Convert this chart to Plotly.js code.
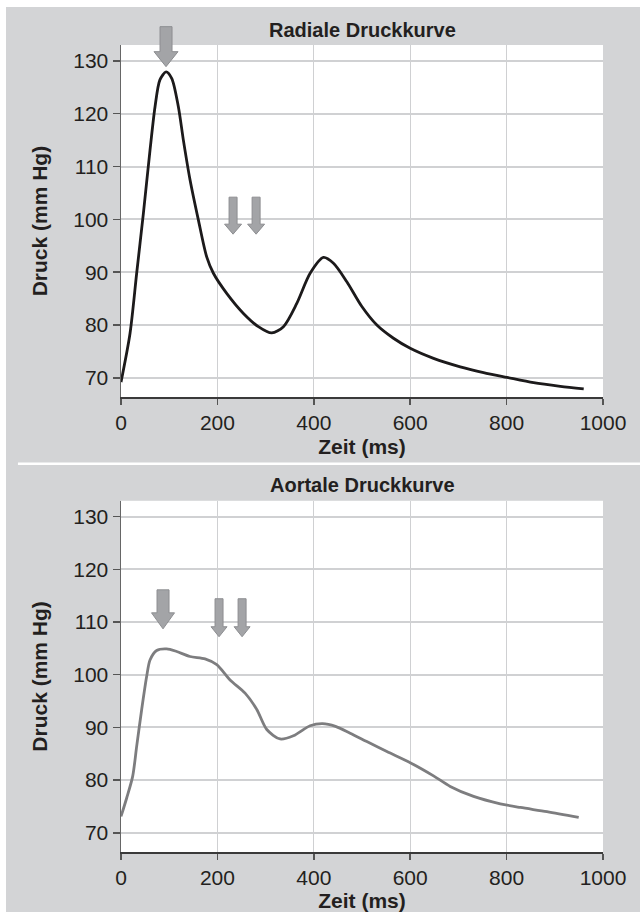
<!DOCTYPE html>
<html><head><meta charset="utf-8">
<script src="https://cdn.plot.ly/plotly-3.0.1.min.js"></script>
<style>
html,body{margin:0;padding:0;background:#fff;width:640px;height:912px;overflow:hidden}
#chart{position:absolute;left:6px;top:7px;width:634px;height:905px}
</style>
</head><body><div id="chart"></div>
<script>
// ---- data ----
const radialTime = [0, 18.7, 32.5, 46.4, 60.2, 70.6, 80.7, 93.4, 105.2, 119, 129.4, 143.2, 160.5, 177.8, 191.7, 219.3, 254, 285, 312.8, 337, 364.7, 392.4, 420, 440.8, 468.5, 499.7, 530.8, 565.3, 600, 648.4, 703.8, 752.2, 800.7, 856, 911.4, 960];
const radialPressure = [69.2, 78.4, 89.8, 101.1, 113.1, 121.3, 126.4, 127.9, 126.7, 121.3, 115, 107.5, 99.9, 92.9, 89.8, 86, 82.2, 79.7, 78.5, 79.7, 84.1, 89.8, 92.8, 91.7, 88.2, 83.5, 80, 77.5, 75.6, 73.7, 72.1, 71, 70.1, 69.1, 68.4, 67.9];
const aorticTime = [0, 11.8, 24.2, 32.5, 42.9, 53.3, 60.2, 74, 94.8, 115.6, 143.2, 174.4, 198.6, 226.3, 257.4, 281.7, 302.4, 330, 357.7, 392.4, 418, 445, 475.4, 510, 551.6, 600, 648.4, 683, 731.5, 786.9, 828.4, 883.8, 949.6];
const aorticPressure = [73.1, 76.6, 80.7, 86.4, 93.4, 99.7, 102.8, 104.6, 104.9, 104.4, 103.45, 103, 101.9, 99, 96.5, 93.4, 89.6, 87.8, 88.4, 90.3, 90.7, 90.2, 88.9, 87.3, 85.4, 83.3, 80.8, 78.8, 76.9, 75.5, 74.8, 74, 72.9];
const xTickVals = [0, 200, 400, 600, 800, 1000];
const yTickVals = [70, 80, 90, 100, 110, 120, 130];
const chartTitles = ['Radiale Druckkurve', 'Aortale Druckkurve'];
const xTitle = 'Zeit (ms)';
const yTitle = 'Druck (mm Hg)';
// arrow markers: time position and tip pressure
const radialArrowTime = [93.4, 232.5, 280.3];
const radialArrowTip = [128.9, 97.2, 97.2];
const radialArrowBig = [true, false, false];
const aorticArrowTime = [87.2, 203.4, 251.2];
const aorticArrowTip = [108.7, 107.2, 107.2];
const aorticArrowBig = [true, false, false];

// ---- styling ----
const FONT = '"Liberation Sans", Arial, sans-serif';
const TXT = '#231f20';
const xRange = [0, 1000];
const yRange = [66.35, 133];
const topDomain = [0.5636, 1];
const botDomain = [0, 0.4352];

function xAxis(anchor) {
  return {
    domain: [0, 1], range: xRange, anchor: anchor, tickvals: xTickVals,
    ticks: 'outside', ticklen: 6, tickwidth: 1.5, tickcolor: '#555',
    showline: true, linecolor: '#3a3a3a', linewidth: 1.5,
    showgrid: true, gridcolor: '#cfd0d2', gridwidth: 1.2, zeroline: false,
    tickfont: {family: FONT, size: 21, color: TXT},
    title: {text: xTitle, font: {family: FONT, size: 21, color: TXT, weight: 'bold'}, standoff: 6},
    fixedrange: true
  };
}
function yAxis(anchor, domain) {
  return {
    domain: domain, range: yRange, anchor: anchor, tickvals: yTickVals,
    ticks: 'outside', ticklen: 7, tickwidth: 1.5, tickcolor: '#555',
    showline: true, linecolor: '#666', linewidth: 1.5,
    showgrid: true, gridcolor: '#d0d1d3', gridwidth: 2, zeroline: false,
    tickfont: {family: FONT, size: 21, color: TXT},
    title: {text: yTitle, font: {family: FONT, size: 21, color: TXT, weight: 'bold'}, standoff: 20},
    fixedrange: true
  };
}

function paperY(domain, v) {
  return domain[0] + (v - yRange[0]) / (yRange[1] - yRange[0]) * (domain[1] - domain[0]);
}
const BIG_TOP = 'M 0 0 L -12 15 L -6 15 L -6 40 L 6 40 L 6 15 L 12 15 Z';
const BIG_BOT = 'M 0 0 L -11.5 16 L -6 16 L -6 39 L 6 39 L 6 16 L 11.5 16 Z';
const SMALL_TOP = 'M 0 0 L -8.5 10 L -4 10 L -4 37 L 4 37 L 4 10 L 8.5 10 Z';
const SMALL_BOT = 'M 0 0 L -8 10 L -4 10 L -4 38 L 4 38 L 4 10 L 8 10 Z';

function arrowShapes(times, tips, big, xref, domain, bigPath, smallPath) {
  return times.map((t, i) => ({
    type: 'path', xref: xref, yref: 'paper',
    xsizemode: 'pixel', ysizemode: 'pixel',
    xanchor: t, yanchor: paperY(domain, tips[i]),
    path: big[i] ? bigPath : smallPath,
    fillcolor: '#a3a4a7', line: {color: '#8d8e91', width: 1}, layer: 'above'
  }));
}

const traces = [
  {x: radialTime, y: radialPressure, xaxis: 'x', yaxis: 'y', type: 'scatter', mode: 'lines',
   line: {color: '#1c1a1b', width: 2.8, shape: 'spline', smoothing: 0.8}, hoverinfo: 'skip'},
  {x: aorticTime, y: aorticPressure, xaxis: 'x2', yaxis: 'y2', type: 'scatter', mode: 'lines',
   line: {color: '#7d7d7f', width: 2.8, shape: 'spline', smoothing: 0.8}, hoverinfo: 'skip'}
];

const shapes = [
  {type: 'line', xref: 'paper', yref: 'paper', x0: -0.2138, x1: 1.08, y0: 0.48098, y1: 0.48098,
   line: {color: '#ffffff', width: 2.5}, layer: 'above'}
].concat(
  arrowShapes(radialArrowTime, radialArrowTip, radialArrowBig, 'x', topDomain, BIG_TOP, SMALL_TOP),
  arrowShapes(aorticArrowTime, aorticArrowTip, aorticArrowBig, 'x2', botDomain, BIG_BOT, SMALL_BOT)
);

const annotations = [
  {text: chartTitles[0], xref: 'paper', yref: 'paper', x: 0.5, y: 1.0186, xanchor: 'center', yanchor: 'middle',
   showarrow: false, font: {family: FONT, size: 20, color: TXT, weight: 'bold'}},
  {text: chartTitles[1], xref: 'paper', yref: 'paper', x: 0.5, y: 0.45497, xanchor: 'center', yanchor: 'middle',
   showarrow: false, font: {family: FONT, size: 20, color: TXT, weight: 'bold'}}
];

const layout = {
  width: 634, height: 905,
  margin: {l: 115, r: 37, t: 38, b: 60, pad: 0},
  paper_bgcolor: '#d3d4d6', plot_bgcolor: '#ffffff',
  showlegend: false,
  xaxis: xAxis('y'), yaxis: yAxis('x', topDomain),
  xaxis2: xAxis('y2'), yaxis2: yAxis('x2', botDomain),
  shapes: shapes, annotations: annotations,
  font: {family: FONT, color: TXT}
};

Plotly.newPlot('chart', traces, layout, {displayModeBar: false, staticPlot: true});
</script>
</body></html>
